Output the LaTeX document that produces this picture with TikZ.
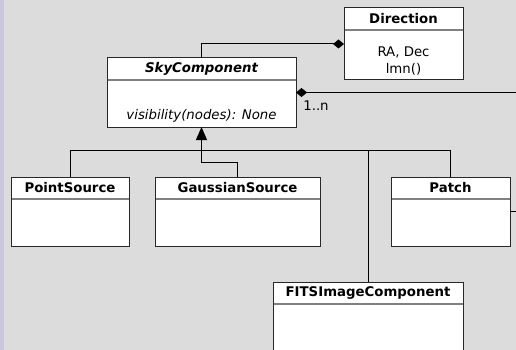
\documentclass[tikz,border=0pt]{standalone}
\usepackage{fontspec}
\setmainfont{DejaVu Sans}
\usetikzlibrary{arrows.meta}
\definecolor{bgc}{RGB}{220,220,220}
\definecolor{stripc}{RGB}{200,200,218}
\definecolor{divc}{RGB}{128,128,128}
\definecolor{bordc}{RGB}{40,40,40}
\tikzset{
  cls/.style={draw=bordc, line width=1pt, fill=white, inner sep=0pt, outer sep=0pt, anchor=north west},
  hdr/.style={font=\fontsize{13.3}{16.6}\selectfont\bfseries, inner sep=0pt},
  bodytxt/.style={font=\fontsize{13.3}{16.6}\selectfont, inner sep=0pt, align=center},
  divline/.style={draw=divc, line width=1.5pt},
  conn/.style={draw=black, line width=1pt},
  comp/.style={conn, {Diamond[length=11pt,width=9pt]}-},
  inh/.style={conn, -{Triangle[length=13pt,width=11pt]}},
}
\newcommand{\clsbox}[6]{%
  \node[cls, minimum width=#4pt, minimum height=#5pt] (#1) at (#2,#3) {};
  \node[hdr] (#1T) at ([yshift=-11pt]#1.north) {#6};
  \draw[divline] ([yshift=-22pt,xshift=0.5pt]#1.north west) -- ([yshift=-22pt,xshift=-0.5pt]#1.north east);
}
\begin{document}
\begin{tikzpicture}[x=1pt,y=-1pt]
\useasboundingbox (0,0) rectangle (516,350);
\begin{scope}
\clip (0,0) rectangle (516,350);
\fill[bgc] (0,0) rectangle (516,350);
\fill[stripc] (0,0) rectangle (4,350);

\clsbox{dir}{344}{8}{119}{72}{Direction}
\node[bodytxt] (dirB) at (403.5,61) {RA, Dec\\lmn()};

\clsbox{sky}{107}{58}{189}{69}{\itshape SkyComponent}
\node[bodytxt, font=\fontsize{13.3}{16.6}\selectfont\itshape] (skyB) at (201.5,116) {visibility(nodes): None};

\clsbox{ps}{11}{177}{118}{69}{PointSource}
\clsbox{gs}{155}{177}{165}{69}{GaussianSource}
\clsbox{pa}{391}{177}{119}{69}{Patch}
\clsbox{fi}{273}{282}{190}{72}{FITSImageComponent}

% composition Direction
\draw[conn] (sky.north) |- ([xshift=-11pt]dir.west);
\draw[comp] (dir.west) -- ([xshift=-11pt]dir.west);

% composition to right
\coordinate (rightEnd) at (516,92.5);
\draw[comp] (sky.east) -- (rightEnd);
\node[bodytxt] (mult) at (316,106) {1..n};

% inheritance
\coordinate (bus) at (0,150);
\draw[inh] (gs.north) -- ++(0,-15) -| (sky.south);
\draw[conn] (ps.north) -- (ps.north |- bus) -- (pa.north |- bus) -- (pa.north);
\draw[conn] (fi.north) -- (fi.north |- bus);

% patch stub
\coordinate (patchR) at (516,211.5);
\draw[conn] (pa.east) -- (patchR);
\end{scope}
\end{tikzpicture}
\end{document}
